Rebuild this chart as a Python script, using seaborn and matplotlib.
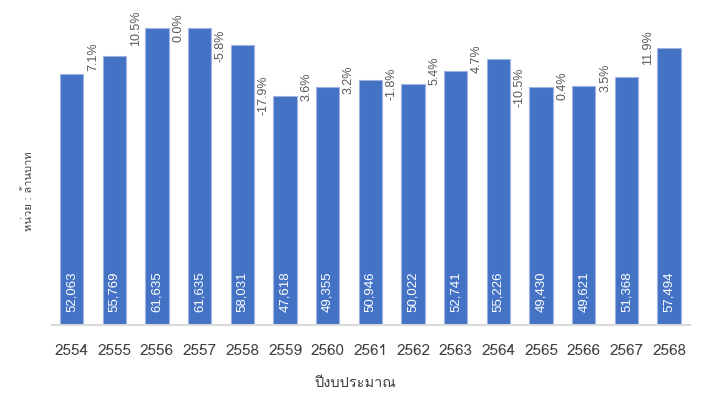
import matplotlib
matplotlib.use("Agg")
import matplotlib.pyplot as plt
import seaborn as sns
import pandas as pd

years = ["2554", "2555", "2556", "2557", "2558", "2559", "2560", "2561",
         "2562", "2563", "2564", "2565", "2566", "2567", "2568"]
budget = [52063, 55769, 61635, 61635, 58031, 47618, 49355, 50946,
          50022, 52741, 55226, 49430, 49621, 51368, 57494]
growth = ["", "7.1%", "10.5%", "0.0%", "-5.8%", "-17.9%", "3.6%", "3.2%",
          "-1.8%", "5.4%", "4.7%", "-10.5%", "0.4%", "3.5%", "11.9%"]

sns.set_theme(style="white")
num_font = ["Liberation Sans", "DejaVu Sans"]
tick_font = ["Loma", "DejaVu Sans"]
thai_font = ["Loma", "Noto Sans Thai", "DejaVu Sans"]

df = pd.DataFrame({"year": years, "budget": budget})

fig = plt.figure(figsize=(7.02, 3.98), dpi=100)
ax = fig.add_axes([52 / 702, (398 - 325) / 398, (690 - 52) / 702, (325 - 7) / 398])
sns.barplot(data=df, x="year", y="budget", color="#4472C4", saturation=1,
            width=0.55, edgecolor="#9DB5E0", linewidth=0.8, ax=ax)

ax.set_ylim(0, 66000)
ax.set_xlim(-0.46, len(years) - 1 + 0.49)

for i, v in enumerate(budget):
    ax.annotate(f"{v:,}", xy=(i, 0), xytext=(0, 9.5), textcoords="offset points",
                rotation=90, ha="center", va="bottom", color="white",
                fontsize=9.5, family=num_font)
for i, g in enumerate(growth):
    if g:
        ax.text(i - 0.5, budget[i], g, rotation=90, ha="center", va="center",
                color="#595959", fontsize=9, family=num_font)

for s in ["top", "right", "left"]:
    ax.spines[s].set_visible(False)
ax.spines["bottom"].set_color("#D9D9D9")
ax.spines["bottom"].set_linewidth(1.5)
ax.set_yticks([])
ax.tick_params(axis="x", length=0, pad=14, labelsize=11, labelcolor="#404040")
for lab in ax.get_xticklabels():
    lab.set_family(tick_font)
ax.set_xlabel("")
ax.set_ylabel("")

fig.text(355 / 702, 1 - 383 / 398, "ปีงบประมาณ", ha="center", va="center",
         fontsize=10.5, color="#404040", family=thai_font)
fig.text(28 / 702, 1 - 191 / 398, "หน่วย : ล้านบาท", ha="center", va="center",
         rotation=90, fontsize=8, color="#404040", family=thai_font)

fig.savefig("out.png", dpi=100)
